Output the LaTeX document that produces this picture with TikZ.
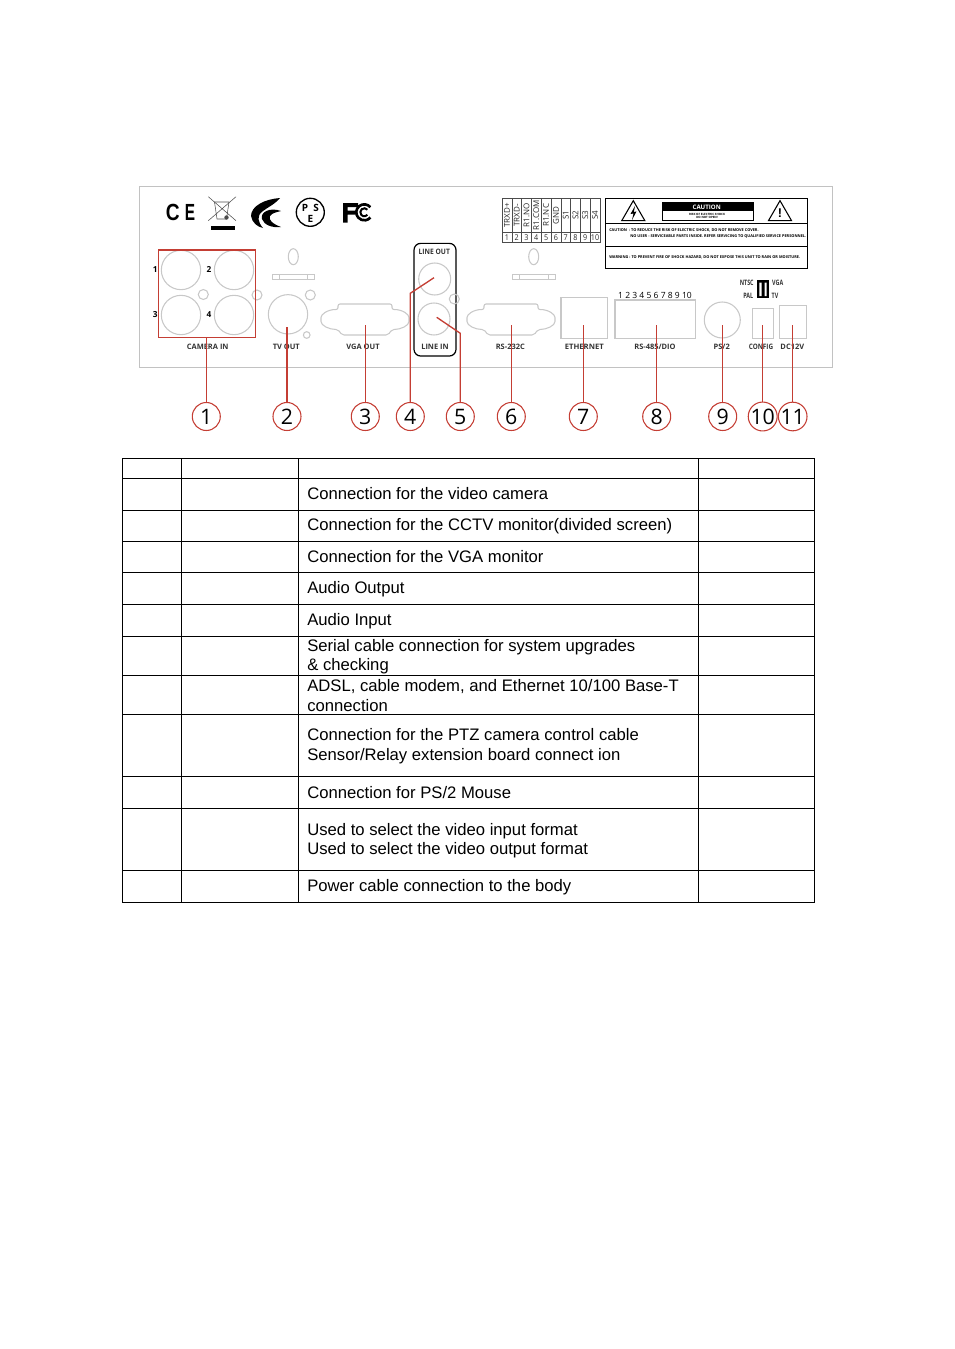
\documentclass[tikz,border=0pt]{standalone}
\usepackage{fontspec}
\setmainfont{Liberation Sans}
\newfontfamily\panelfont{Open Sans}
\usetikzlibrary{arrows.meta,positioning,calc,shapes.geometric}
\definecolor{callred}{RGB}{196,62,52}
\definecolor{portgray}{RGB}{200,200,200}
\newcommand{\narrowtxt}[1]{\scalebox{0.72}[1]{#1}}
\tikzset{
  port/.style={draw=portgray,thick,circle,inner sep=0pt},
  jack/.style={port,minimum size=29.5pt},
  screw/.style={port,minimum size=7.5pt},
  sock/.style={draw=portgray,thick,rectangle,inner sep=0pt},
  plbl/.style={font=\panelfont\bfseries\fontsize{5.6}{6}\selectfont,text=black!80,inner sep=0pt},
  pnum/.style={font=\panelfont\bfseries\fontsize{6.2}{7}\selectfont,inner sep=0pt},
  tiny/.style={font=\panelfont\fontsize{6}{6}\selectfont,text=black!85,inner sep=0pt},
  warn/.style={font=\panelfont\bfseries\fontsize{2.9}{3.5}\selectfont,inner sep=0pt,anchor=west},
  call/.style={circle,draw=callred,thick,minimum size=21pt,inner sep=0pt,font=\panelfont\fontsize{16}{16}\selectfont},
  redl/.style={draw=callred,line width=1pt},
  pse/.style={font=\panelfont\bfseries\fontsize{7.5}{8}\selectfont,inner sep=0pt},
  cell/.style={font=\fontsize{12.5}{14.6}\selectfont,align=left,anchor=west,inner sep=0pt},
  tline/.style={draw=black,line width=0.6pt}
}
\begin{document}
\begin{tikzpicture}[x=0.75pt,y=-0.75pt]
  \useasboundingbox (0,0) rectangle (954,1349);
  % Back panel
  \node[draw=black!24,line width=0.6pt,rectangle,inner sep=0pt,minimum width=519.75pt,minimum height=135.75pt] (panel) at (485.5,276.5) {};

  % Approval marks
  \node[font=\bfseries\fontsize{17.5}{18}\selectfont,inner sep=0pt] (markc) at (172.7,212.5) {\scalebox{0.82}[1]{C}};
  \node[font=\bfseries\fontsize{17.5}{18}\selectfont,inner sep=0pt] (marke) at (190,212.5) {\scalebox{0.66}[1]{E}};
  \draw[black!70,thin] (208.3,196.7) -- (236,220.7) (236,196.7) -- (208.3,220.7);
  \draw[black!70] (214.5,202) -- (229,202) -- (226.5,219) -- (217,219) -- cycle;
  \fill[black!70] (226.5,217.5) circle (2.2);
  \node[fill=black,minimum width=18pt,minimum height=3pt,inner sep=0pt] (markbar) at (222.7,228) {};
  \fill (280,198) .. controls (265,199) and (251,206) .. (251,216) .. controls (252,223) and (258,227) .. (263,228)
    .. controls (258,222) and (256,216) .. (263,211) .. controls (268,207) and (274,205) .. (280,198) -- cycle;
  \fill (281,211) .. controls (270,207) and (260,212) .. (262,219) .. controls (264,225) and (272,228) .. (281,227)
    .. controls (273,224) and (268,220) .. (270,216) .. controls (272,213) and (277,212) .. (281,211) -- cycle;
  \node[draw=black,line width=1pt,circle,minimum size=21pt,inner sep=0pt] (markpse) at (310.3,212.3) {};
  \node[pse] at (305,208) {P};
  \node[pse] at (316,208) {S};
  \node[pse] at (310.5,219) {E};
  \fill (343,203) rectangle (347.5,222.7) (343,203) rectangle (358,207) (343,210.5) rectangle (355,214.5);
  \draw[line width=2pt] (370.4,207.2) arc[start angle=-40,end angle=-320,radius=8];
  \draw[line width=1.5pt] (367.4,209.7) arc[start angle=-40,end angle=-320,radius=4];

  % Camera inputs
  \node[jack] (cam1) at (181,270) {};
  \node[jack] (cam2) at (234,270) {};
  \node[jack] (cam3) at (181,315) {};
  \node[jack] (cam4) at (234,315) {};
  \node[screw] (scr1) at (203.3,294.5) {};
  \node[screw] (scr2) at (257,295) {};
  \node[pnum] at (155.3,270) {1};
  \node[pnum] at (209,270) {2};
  \node[pnum] at (155.3,315) {3};
  \node[pnum] at (209,315) {4};
  \node[draw=callred,line width=1pt,rectangle,inner sep=0pt,minimum width=72.75pt,minimum height=65.5pt] (cambox) at (206.8,293.7) {};
  \node[plbl] at (207.7,346.7) {CAMERA IN};

  % TV out
  \node[jack] (tvout) at (288,314.3) {};
  \node[screw] (scr3) at (310.3,295) {};
  \node[port,minimum size=5pt] (scr4) at (306.7,335) {};
  \node[draw=portgray,thick,ellipse,minimum width=7.5pt,minimum height=12pt,inner sep=0pt] (oval1) at (293.3,256.7) {};
  \node[sock,minimum width=31.7pt,minimum height=4pt] (bar1) at (293.8,277) {};
  \draw[portgray] (279.7,274.3) -- (279.7,279.7) (307.7,274.3) -- (307.7,279.7);
  \node[plbl] at (286.3,346.7) {TV OUT};

  % D-sub connectors
  \foreach \cx in {365,511}
    \draw[portgray,thick,rounded corners=1.5pt,shift={(\cx,319.5)}] (-27,-15.5) -- (27,-15.5) -- (27,-10)
      .. controls (38,-10) and (44,-5) .. (44,0) .. controls (44,6) and (36,10) .. (27,10)
      -- (23,15.5) -- (-23,15.5) -- (-27,10)
      .. controls (-36,10) and (-44,6) .. (-44,0) .. controls (-44,-5) and (-38,-10) .. (-27,-10) -- cycle;
  \node[plbl] at (363,346.7) {VGA OUT};
  \node[plbl] at (510.3,346.7) {RS-232C};

  % Audio
  \node[draw=black,line width=0.9pt,rounded corners=5pt,minimum width=31.5pt,minimum height=84.5pt,inner sep=0pt] (audiobox) at (435,299.7) {};
  \node[port,minimum size=24pt] (lineout) at (434.7,279) {};
  \node[port,minimum size=24pt] (linein) at (434,319) {};
  \node[screw] (scr5) at (454.3,299) {};
  \node[plbl] at (434.3,252.3) {\scalebox{0.9}[1]{LINE OUT}};
  \node[plbl] at (435,346.7) {LINE IN};

  % Terminal block
  \node[draw=black!70,thin,rectangle,inner sep=0pt,minimum width=73.5pt,minimum height=33.3pt] (term) at (551,220.5) {};
  \draw[black!70,thin] (502,232.3) -- (600,232.3);
  \foreach \i in {1,...,9}
    \draw[black!70,thin] (502+\i*9.8,198.3) -- (502+\i*9.8,242.7);
  \foreach \i/\t in {1/TRXD+,2/TRXD-,3/R1.NO,4/R1.COM,5/R1.NC,6/GND,7/S1,8/S2,9/S3,10/S4}{
    \node[tiny,rotate=90] at (497.1+\i*9.8,215.3) {\t};
    \node[tiny] at (497.1+\i*9.8,238) {\scalebox{0.9}[1]{\i}};
  }
  \node[draw=portgray,thick,ellipse,minimum width=7.5pt,minimum height=12pt,inner sep=0pt] (oval2) at (533.7,256.7) {};
  \node[sock,minimum width=31.7pt,minimum height=4pt] (bar2) at (534,277) {};
  \draw[portgray] (519.5,274.3) -- (519.5,279.7) (548,274.3) -- (548,279.7);

  % Caution label
  \node[draw=black,line width=0.8pt,rectangle,inner sep=0pt,minimum width=151.5pt,minimum height=52.5pt] (label) at (706.3,233.3) {};
  \draw[line width=0.7pt] (605.3,223.3) -- (807.3,223.3) (605.3,246) -- (807.3,246);
  \node[regular polygon,regular polygon sides=3,draw=black,line width=0.8pt,inner sep=0pt,minimum size=20pt] (tri1) at (633.3,214) {};
  \node[regular polygon,regular polygon sides=3,draw=black,line width=0.8pt,inner sep=0pt,minimum size=20pt] (tri2) at (780,214) {};
  \fill (635,206) -- (630.5,214) -- (633.5,213.5) -- (632,220) -- (636.5,211.5) -- (633.8,212) -- cycle;
  \node[font=\bfseries\fontsize{9.5}{9}\selectfont,inner sep=0pt] at (780,213.5) {!};
  \node[draw=black,fill=white,line width=0.7pt,inner sep=0pt,minimum width=68.5pt,minimum height=13pt] (capbox) at (707.7,211.3) {};
  \fill (662,202.7) rectangle (753.3,210.7);
  \node[font=\panelfont\bfseries\fontsize{4.6}{5}\selectfont,text=white,inner sep=0pt] at (706.7,207) {CAUTION};
  \node[font=\panelfont\bfseries\fontsize{2.2}{2.6}\selectfont,align=center,inner sep=0pt] at (707,216) {RISK OF ELECTRIC SHOCK\\DO NOT OPEN!};
  \node[warn] at (609,230.7) {CAUTION \ : TO REDUCE THE RISK OF ELECTRIC SHOCK, DO NOT REMOVE COVER.};
  \node[warn] at (630,236.7) {NO USER - SERVICEABLE PARTS INSIDE. REFER SERVICING TO QUALIFIED SERVICE PERSONNEL.};
  \node[warn] at (609,257.7) {WARNING : TO PREVENT FIRE OF SHOCK HAZARD, DO NOT EXPOSE THIS UNIT TO RAIN OR MOISTURE.};

  % Right hand ports
  \node[sock,minimum width=35pt,minimum height=31pt] (ether) at (584.3,318) {};
  \node[sock,minimum width=60.5pt,minimum height=29pt] (rs485) at (655.3,319.3) {};
  \node[port,minimum size=27pt] (ps2) at (722.3,320) {};
  \node[sock,minimum width=15.7pt,minimum height=22.8pt] (config) at (762.8,323.5) {};
  \node[sock,minimum width=20.5pt,minimum height=24.7pt] (dc12) at (793,322.2) {};
  \node[font=\panelfont\fontsize{6.4}{7}\selectfont,inner sep=0pt] at (655,295) {1 2 3 4 5 6 7 8 9 10};
  \node[plbl] at (584.3,346.7) {\scalebox{1.03}[1]{ETHERNET}};
  \node[plbl] at (655,346.7) {RS-485/DIO};
  \node[plbl] at (721.7,346.7) {PS/2};
  \node[plbl] at (761,346.7) {\scalebox{0.85}[1]{CONFIG}};
  \node[plbl] at (792.3,346.7) {DC12V};
  \node[plbl] at (746.7,283.3) {\narrowtxt{NTSC}};
  \node[plbl] at (777.7,283.3) {\narrowtxt{VGA}};
  \node[plbl] at (748.3,295.7) {\narrowtxt{PAL}};
  \node[plbl] at (775,295.7) {\narrowtxt{TV}};
  \node[fill=black,minimum width=9pt,minimum height=13.7pt,inner sep=0pt] (switch) at (763,289.2) {};
  \fill[white] (759.3,282.5) rectangle (761.5,296) (764.5,282.5) rectangle (766.7,296);

  % Callouts
  \foreach \n/\cx in {1/206.3,2/287,3/365.3,4/410.3,5/460.3,6/511.3,7/583.3,8/656.7,9/722.7,10/762.7,11/792.7}
    \node[call] (call\n) at (\cx,416.5) {\n};

  % Leaders
  \coordinate (end2) at (287,326.7);
  \coordinate (end3) at (365.3,325);
  \coordinate (end6) at (511.3,325);
  \coordinate (end7) at (583.3,325);
  \coordinate (end8) at (656.7,325);
  \coordinate (end9) at (722.7,325);
  \coordinate (end10) at (762.7,325);
  \coordinate (end11) at (792.7,325);
  \coordinate (end4) at (434,277.7);
  \coordinate (end5) at (436.7,317.3);
  \draw[redl] (call1.north) -- (call1.north |- cambox.south);
  \foreach \n in {2,3,6,7,8,9,10,11}
    \draw[redl] (call\n.north) -- (end\n);
  \draw[redl] (call4.north) -- (410.3,293.3) -- (end4);
  \draw[redl] (call5.north) -- (460.3,333.3) -- (end5);

  % Table grid
  \foreach \y in {458,478,510,541,572,604,636,675,714,776,808,870,902}
    \draw[tline] (122,\y) -- (814.5,\y);
  \foreach \x in {122,181,298,698,814.5}
    \draw[tline] (\x,458) -- (\x,902);

  % Table text
  \node[cell] (row1) at (307,494) {Connection for the video camera};
  \node[cell] (row2) at (307,526.5) {Connection for the CCTV monitor(divided screen)};
  \node[cell] (row3) at (307,557) {Connection for the VGA monitor};
  \node[cell] (row4) at (307,589.5) {Audio Output};
  \node[cell] (row5) at (307,621) {Audio Input};
  \node[cell] (row6) at (307,656.5) {Serial cable connection for system upgrades\\\& checking};
  \node[cell] (row7) at (307,695.5) {ADSL, cable modem, and Ethernet 10/100 Base-T\\connection};
  \node[cell] (row8) at (307,746) {Connection for the PTZ camera control cable\\Sensor/Relay extension board connect ion};
  \node[cell] (row9) at (307,793) {Connection for PS/2 Mouse};
  \node[cell] (row10) at (307,840.5) {Used to select the video input format\\Used to select the video output format};
  \node[cell] (row11) at (307,887.5) {Power cable connection to the body};
\end{tikzpicture}
\end{document}
